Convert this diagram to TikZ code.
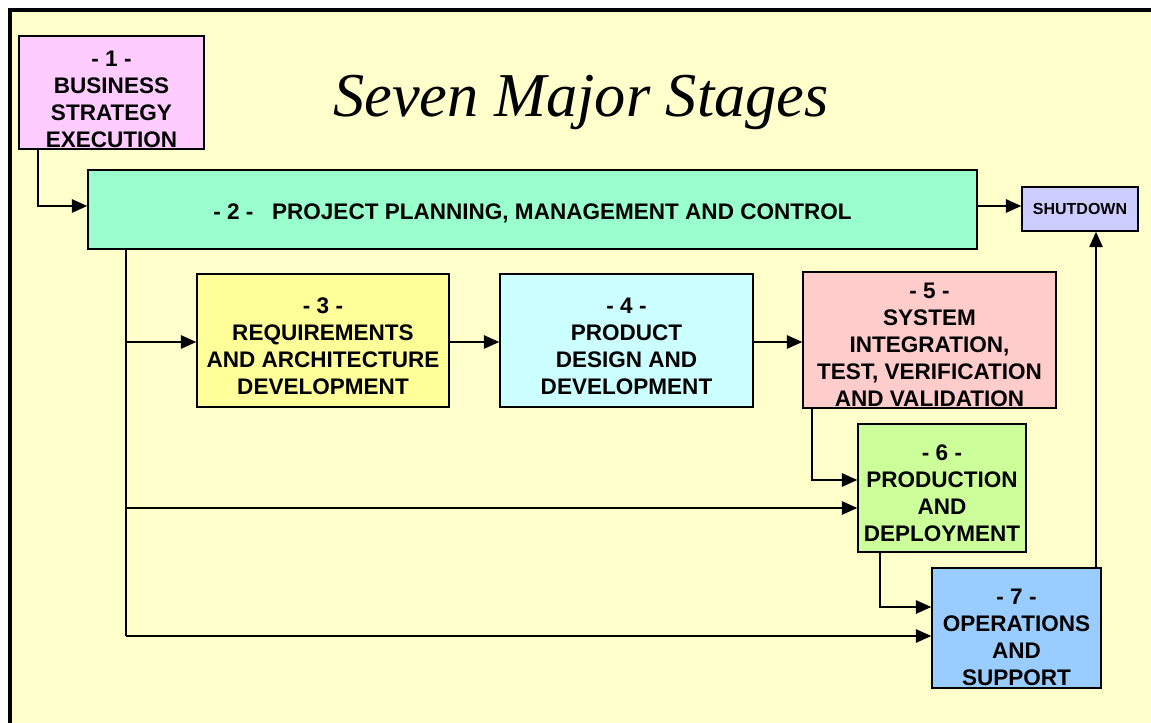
\documentclass[tikz,border=0pt]{standalone}
\usepackage{fontspec}
\setmainfont{Liberation Sans}
\newfontfamily\titlefont{Liberation Serif}
\usetikzlibrary{arrows.meta,calc}
\definecolor{bgyellow}{HTML}{FFFFCC}
\definecolor{cone}{HTML}{FFCCFF}
\definecolor{ctwo}{HTML}{99FFCC}
\definecolor{cshut}{HTML}{CCCCFF}
\definecolor{cthree}{HTML}{FFFF99}
\definecolor{cfour}{HTML}{CCFFFF}
\definecolor{cfive}{HTML}{FFCCCC}
\definecolor{csix}{HTML}{CCFF99}
\definecolor{cseven}{HTML}{99CCFF}
\tikzset{
  stagebox/.style={draw=black, line width=1.1pt, inner sep=0pt},
  stagetext/.style={font=\fontsize{16.9}{20.25}\selectfont\bfseries, align=center, inner sep=0pt},
  arr/.style={line width=1.2pt, -{Triangle[length=11.5pt,width=10pt]}},
  conn/.style={line width=1.2pt}
}
\begin{document}
\begin{tikzpicture}[x=0.75pt,y=-0.75pt]
\useasboundingbox (0,0) rectangle (1151,723);
\fill[white] (0,0) rectangle (1151,723);
\filldraw[fill=bgyellow, draw=black, line width=3pt] (10,10) rectangle (1180,760);

% title
\node[font=\titlefont\itshape\fontsize{46.8}{56}\selectfont, anchor=base, inner sep=0pt] (title) at (581,117) {Seven Major Stages};

% boxes
\node[stagebox, fill=cone, minimum width=185*0.75pt, minimum height=113*0.75pt] (b1) at (111.5,92.5) {};
\node[stagetext] (t1) at (111.5,99.5) {- 1 -\\BUSINESS\\STRATEGY\\EXECUTION};

\node[stagebox, fill=ctwo, minimum width=889*0.75pt, minimum height=79*0.75pt] (b2) at (532.5,209.5) {};
\node[stagetext, anchor=base] (t2) at (532.5,220) {- 2 -\ \ \ PROJECT PLANNING, MANAGEMENT AND CONTROL};

\node[stagebox, fill=cshut, minimum width=116*0.75pt, minimum height=44*0.75pt, font=\fontsize{12}{14}\selectfont\bfseries] (sd) at (1080,209) {SHUTDOWN};

\node[stagebox, fill=cthree, minimum width=252*0.75pt, minimum height=133*0.75pt] (b3) at (323,340.5) {};
\node[stagetext] (t3) at (323,346.5) {- 3 -\\REQUIREMENTS\\AND ARCHITECTURE\\DEVELOPMENT};

\node[stagebox, fill=cfour, minimum width=253*0.75pt, minimum height=133*0.75pt] (b4) at (626.5,340.5) {};
\node[stagetext] (t4) at (626.5,346.5) {- 4 -\\PRODUCT\\DESIGN AND\\DEVELOPMENT};

\node[stagebox, fill=cfive, minimum width=253*0.75pt, minimum height=136*0.75pt] (b5) at (929.5,340) {};
\node[stagetext] (t5) at (929.5,345) {- 5 -\\SYSTEM\\INTEGRATION,\\TEST, VERIFICATION\\AND VALIDATION};

\node[stagebox, fill=csix, minimum width=168*0.75pt, minimum height=128*0.75pt] (b6) at (942,488) {};
\node[stagetext] (t6) at (942,493.5) {- 6 -\\PRODUCTION\\AND\\DEPLOYMENT};

\node[stagebox, fill=cseven, minimum width=169*0.75pt, minimum height=120*0.75pt] (b7) at (1016.5,628) {};
\node[stagetext] (t7) at (1016.5,637.5) {- 7 -\\OPERATIONS\\AND\\SUPPORT};

% trunk coordinates
\coordinate (trunkTop) at (b2.south -| 126,0);
\coordinate (j3) at (126,342);
\coordinate (j6) at (126,508);
\coordinate (j7) at (126,636);

% connectors
\draw[arr] (b1.south -| 38,0) |- (b2.west |- 0,206);
\draw[arr] (b2.east |- 0,206) -- (sd.west |- 0,206);
\draw[conn] (trunkTop) -- (j7);
\draw[arr] (j3) -- (b3.west |- j3);
\draw[arr] (j6) -- (b6.west |- j6);
\draw[arr] (j7) -- (b7.west |- j7);
\draw[arr] (b3.east |- 0,342) -- (b4.west |- 0,342);
\draw[arr] (b4.east |- 0,342) -- (b5.west |- 0,342);
\draw[arr] (b5.south -| 812,0) |- (b6.west |- 0,480);
\draw[arr] (b6.south -| 880,0) |- (b7.west |- 0,607);
\draw[arr] (b7.north -| 1096,0) -- (sd.south -| 1096,0);
\end{tikzpicture}
\end{document}
